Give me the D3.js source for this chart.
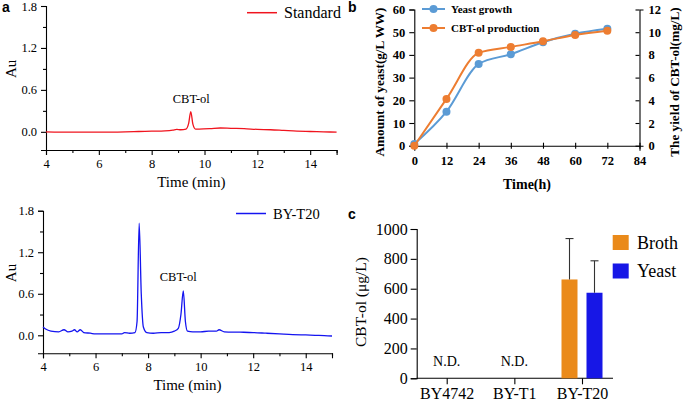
<!DOCTYPE html>
<html>
<head>
<meta charset="utf-8">
<script src="https://cdn.jsdelivr.net/npm/d3@7"></script>
<style>
body{margin:0;background:#fff;}
svg{display:block;}
</style>
</head>
<body>
<svg id="chart" width="685" height="403"></svg>
<script>
// ---- Panel a: chromatograms ----
const stdTime = [4, 5, 6, 7, 7.5, 8, 8.5, 8.8, 8.95, 9.1, 9.3, 9.4, 9.48, 9.56, 9.66, 9.8, 10.2, 10.6, 11, 11.5, 12, 12.5, 13, 13.5, 14, 14.5, 15];
const stdAu   = [0.0, -0.005, -0.005, 0.0, 0.005, 0.01, 0.015, 0.025, 0.035, 0.03, 0.04, 0.12, 0.29, 0.11, 0.04, 0.04, 0.045, 0.055, 0.05, 0.045, 0.035, 0.03, 0.02, 0.01, 0.005, 0.0, -0.005];
const t20Time = [4.0, 4.1, 4.3, 4.6, 4.8, 4.95, 5.1, 5.2, 5.3, 5.42, 5.55, 5.8, 6.0, 6.5, 7.0, 7.1, 7.3, 7.5, 7.58, 7.66, 7.74, 7.82, 7.95, 8.2, 8.5, 8.8, 9.0, 9.15, 9.25, 9.34, 9.42, 9.5, 9.7, 10, 10.3, 10.6, 10.7, 10.9, 11.5, 12, 12.5, 13, 13.5, 14, 14.5, 15];
const t20Au   = [0.12, 0.09, 0.06, 0.05, 0.08, 0.05, 0.06, 0.08, 0.05, 0.08, 0.04, 0.03, 0.02, 0.02, 0.02, 0.04, 0.03, 0.04, 0.2, 1.62, 0.6, 0.12, 0.04, 0.03, 0.04, 0.04, 0.06, 0.1, 0.3, 0.64, 0.2, 0.06, 0.05, 0.05, 0.06, 0.06, 0.08, 0.05, 0.045, 0.04, 0.03, 0.02, 0.01, 0.005, 0.0, -0.01];
const timeTicks = [4, 6, 8, 10, 12, 14];
const timeMinor = [5, 7, 9, 11, 13, 15];
const auTicks = [0.0, 0.6, 1.2, 1.8];
const auMinor = [0.3, 0.9, 1.5];

// ---- Panel b: time course ----
const hours = [0, 12, 24, 36, 48, 60, 72];
const yeastGrowth = [0.8, 15.0, 36.0, 40.3, 45.6, 49.3, 51.5];
const cbtProduction = [0.0, 4.12, 8.18, 8.7, 9.2, 9.76, 10.12];
const hourTicks = [0, 12, 24, 36, 48, 60, 72, 84];
const yeastTicks = [0, 10, 20, 30, 40, 50, 60];
const cbtTicks = [0, 2, 4, 6, 8, 10, 12];

// ---- Panel c: bars ----
const strains = ["BY4742", "BY-T1", "BY-T20"];
const groups = ["Broth", "Yeast"];
const brothVals = [null, null, 662];
const brothErr = [null, null, 936];
const yeastVals = [null, null, 573];
const yeastErr = [null, null, 787];
const cTicks = [0, 200, 400, 600, 800, 1000];

const svg = d3.select("#chart");
const serif = "'Liberation Serif','Times New Roman',serif";
const sans = "'Liberation Sans',Arial,sans-serif";

function styleAxis(g, fs, bold) {
  g.selectAll("path.domain").attr("stroke", "#000").attr("stroke-width", 1.1);
  g.selectAll(".tick line").attr("stroke", "#000").attr("stroke-width", 1.1);
  g.selectAll(".tick text").attr("font-family", serif).attr("font-size", fs)
    .attr("font-weight", bold ? "bold" : "normal").attr("fill", "#000");
}

function chromatogram(opt) {
  const x = d3.scaleLinear().domain([4, 15]).range([opt.x0, opt.x1]);
  const y = d3.scaleLinear().domain([-0.26, 1.8]).range([opt.yb, opt.yt]);
  const g = svg.append("g");
  const xa = g.append("g").attr("transform", `translate(0,${opt.yb})`)
    .call(d3.axisBottom(x).tickValues(timeTicks).tickFormat(d3.format("d")).tickSizeOuter(0).tickSize(5).tickPadding(4));
  styleAxis(xa, 12.5);
  const xm = g.append("g").attr("transform", `translate(0,${opt.yb})`)
    .call(d3.axisBottom(x).tickValues(timeMinor).tickFormat("").tickSizeOuter(0).tickSize(3));
  xm.select("path.domain").remove();
  styleAxis(xm, 12.5);
  const ya = g.append("g").attr("transform", `translate(${opt.x0},0)`)
    .call(d3.axisLeft(y).tickValues(auTicks).tickFormat(d3.format(".1f")).tickSizeOuter(0).tickSize(5).tickPadding(4));
  styleAxis(ya, 12.5);
  const ym = g.append("g").attr("transform", `translate(${opt.x0},0)`)
    .call(d3.axisLeft(y).tickValues(auMinor).tickFormat("").tickSizeOuter(0).tickSize(3));
  ym.select("path.domain").remove();
  styleAxis(ym, 12.5);

  const line = d3.line().x(d => x(d[0])).y(d => y(d[1])).curve(d3.curveMonotoneX);
  g.append("path").datum(opt.t.map((t, i) => [t, opt.v[i]]))
    .attr("d", line).attr("fill", "none").attr("stroke", opt.color).attr("stroke-width", 1.3);

  g.append("text").attr("x", (opt.x0 + opt.x1) / 2).attr("y", opt.yb + 37)
    .attr("text-anchor", "middle").attr("font-family", serif).attr("font-size", 15).text("Time (min)");
  g.append("text").attr("transform", `translate(16,${y(0.9)}) rotate(-90)`)
    .attr("text-anchor", "middle").attr("font-family", serif).attr("font-size", 15).text("Au");
  g.append("text").attr("x", x(opt.labelX)).attr("y", y(opt.labelY))
    .attr("text-anchor", "middle").attr("font-family", serif).attr("font-size", 12.5).text("CBT-ol");
  g.append("line").attr("x1", opt.legX).attr("x2", opt.legX + 30).attr("y1", opt.legY).attr("y2", opt.legY)
    .attr("stroke", opt.color).attr("stroke-width", 1.5);
  g.append("text").attr("x", opt.legX + 37).attr("y", opt.legY + 5)
    .attr("font-family", serif).attr("font-size", opt.legFs).text(opt.name);
}

chromatogram({x0: 46, x1: 336.6, yt: 6, yb: 150, t: stdTime, v: stdAu, color: "#f0141e",
  labelX: 9.5, labelY: 0.41, legX: 247, legY: 12.7, legFs: 16, name: "Standard"});
chromatogram({x0: 43, x1: 332, yt: 210.7, yb: 353.3, t: t20Time, v: t20Au, color: "#1414f0",
  labelX: 9.15, labelY: 0.78, legX: 236, legY: 213.5, legFs: 14.5, name: "BY-T20"});

svg.append("text").attr("x", 2).attr("y", 12).attr("font-family", sans).attr("font-weight", "bold")
  .attr("font-size", 14).text("a");

// ---- Panel b ----
{
  const x = d3.scaleLinear().domain([0, 84]).range([414.3, 639.5]);
  const yl = d3.scaleLinear().domain([0, 60]).range([145.7, 9.5]);
  const yr = d3.scaleLinear().domain([0, 12]).range([145.7, 9.5]);
  const g = svg.append("g");
  const xa = g.append("g").attr("transform", `translate(0,145.7)`)
    .call(d3.axisBottom(x).tickValues(hourTicks).tickSizeOuter(0).tickSize(5).tickPadding(5));
  styleAxis(xa, 12.5, true);
  xa.selectAll(".tick line").attr("y1", -3).attr("y2", 3);
  const yla = g.append("g").attr("transform", `translate(414.3,0)`)
    .call(d3.axisLeft(yl).tickValues(yeastTicks).tickSizeOuter(0).tickSize(5).tickPadding(4));
  styleAxis(yla, 12.5, true);
  const yra = g.append("g").attr("transform", `translate(639.5,0)`)
    .call(d3.axisRight(yr).tickValues(cbtTicks).tickSizeOuter(0).tickSize(4).tickPadding(5));
  styleAxis(yra, 12.5, true);
  yra.selectAll(".tick line").attr("x1", -4).attr("x2", 0);

  const blue = "#5b9bd5", orange = "#ed7d31";
  const lineL = d3.line().x((d, i) => x(hours[i])).y(d => yl(d)).curve(d3.curveMonotoneX);
  const lineR = d3.line().x((d, i) => x(hours[i])).y(d => yr(d)).curve(d3.curveMonotoneX);
  g.append("path").datum(yeastGrowth).attr("d", lineL).attr("fill", "none").attr("stroke", blue).attr("stroke-width", 2);
  g.selectAll("circle.yg").data(yeastGrowth).join("circle").attr("class", "yg")
    .attr("cx", (d, i) => x(hours[i])).attr("cy", d => yl(d)).attr("r", 4).attr("fill", blue);
  g.append("path").datum(cbtProduction).attr("d", lineR).attr("fill", "none").attr("stroke", orange).attr("stroke-width", 2);
  g.selectAll("circle.cp").data(cbtProduction).join("circle").attr("class", "cp")
    .attr("cx", (d, i) => x(hours[i])).attr("cy", d => yr(d)).attr("r", 4).attr("fill", orange);

  const leg = [["Yeast growth", blue, 9], ["CBT-ol production", orange, 28]];
  leg.forEach(([name, c, yy]) => {
    g.append("line").attr("x1", 422).attr("x2", 445).attr("y1", yy).attr("y2", yy).attr("stroke", c).attr("stroke-width", 2);
    g.append("circle").attr("cx", 433.5).attr("cy", yy).attr("r", 4).attr("fill", c);
    g.append("text").attr("x", 451).attr("y", yy + 4).attr("font-family", serif).attr("font-weight", "bold")
      .attr("font-size", 11).text(name);
  });

  g.append("text").attr("x", 527).attr("y", 189).attr("text-anchor", "middle").attr("font-family", serif)
    .attr("font-weight", "bold").attr("font-size", 14).text("Time(h)");
  g.append("text").attr("transform", "translate(384,82) rotate(-90)").attr("text-anchor", "middle")
    .attr("font-family", serif).attr("font-weight", "bold").attr("font-size", 13.2).text("Amount of yeast(g/L WW)");
  g.append("text").attr("transform", "translate(679,82) rotate(-90)").attr("text-anchor", "middle")
    .attr("font-family", serif).attr("font-weight", "bold").attr("font-size", 13.2).text("The yield of CBT-ol(mg/L)");
  svg.append("text").attr("x", 348).attr("y", 12).attr("font-family", sans).attr("font-weight", "bold")
    .attr("font-size", 14).text("b");
}

// ---- Panel c ----
{
  const x = d3.scalePoint().domain(strains).range([446.7, 582]);
  const xs = d3.scaleBand().domain(groups).range([-25, 25]).paddingInner(0.36).paddingOuter(0.18);
  const y = d3.scaleLinear().domain([0, 1000]).range([378.3, 229]);
  const g = svg.append("g");
  const ya = g.append("g").attr("transform", "translate(416.7,0)")
    .call(d3.axisLeft(y).tickValues(cTicks).tickFormat(d3.format("d")).tickSizeOuter(0).tickSize(6).tickPadding(3));
  styleAxis(ya, 16);
  const xa = g.append("g").attr("transform", "translate(0,378.3)")
    .call(d3.axisBottom(x).tickSize(6).tickPadding(3));
  xa.select("path.domain").remove();
  styleAxis(xa, 16);
  g.append("line").attr("x1", 416.7).attr("x2", 613).attr("y1", 378.3).attr("y2", 378.3)
    .attr("stroke", "#000").attr("stroke-width", 1.1);

  const colors = {Broth: "#ea8a1a", Yeast: "#1717e6"};
  const series = [["Broth", brothVals, brothErr], ["Yeast", yeastVals, yeastErr]];
  series.forEach(([name, vals, errs]) => {
    strains.forEach((s, i) => {
      if (vals[i] == null) return;
      const bx = x(s) + xs(name);
      g.append("rect").attr("x", bx).attr("y", y(vals[i])).attr("width", xs.bandwidth())
        .attr("height", y(0) - y(vals[i])).attr("fill", colors[name]);
      const cx = bx + xs.bandwidth() / 2;
      g.append("line").attr("x1", cx).attr("x2", cx).attr("y1", y(vals[i])).attr("y2", y(errs[i]))
        .attr("stroke", "#333").attr("stroke-width", 1.1);
      g.append("line").attr("x1", cx - 4).attr("x2", cx + 4).attr("y1", y(errs[i])).attr("y2", y(errs[i]))
        .attr("stroke", "#333").attr("stroke-width", 1.1);
    });
  });
  strains.forEach((s, i) => {
    if (brothVals[i] == null && yeastVals[i] == null) {
      g.append("text").attr("x", x(s)).attr("y", 366).attr("text-anchor", "middle")
        .attr("font-family", serif).attr("font-size", 14).text("N.D.");
    }
  });
  g.append("text").attr("transform", "translate(366,302) rotate(-90)").attr("text-anchor", "middle")
    .attr("font-family", serif).attr("font-size", 15.5).text("CBT-ol (μg/L)");
  groups.forEach((name, i) => {
    const yy = 235 + i * 28.5;
    g.append("rect").attr("x", 612.7).attr("y", yy).attr("width", 16).attr("height", 15).attr("fill", colors[name]);
    g.append("text").attr("x", 637).attr("y", yy + 13.5).attr("font-family", serif).attr("font-size", 18).text(name);
  });
  svg.append("text").attr("x", 348).attr("y", 219).attr("font-family", sans).attr("font-weight", "bold")
    .attr("font-size", 14).text("c");
}
</script>
</body>
</html>
